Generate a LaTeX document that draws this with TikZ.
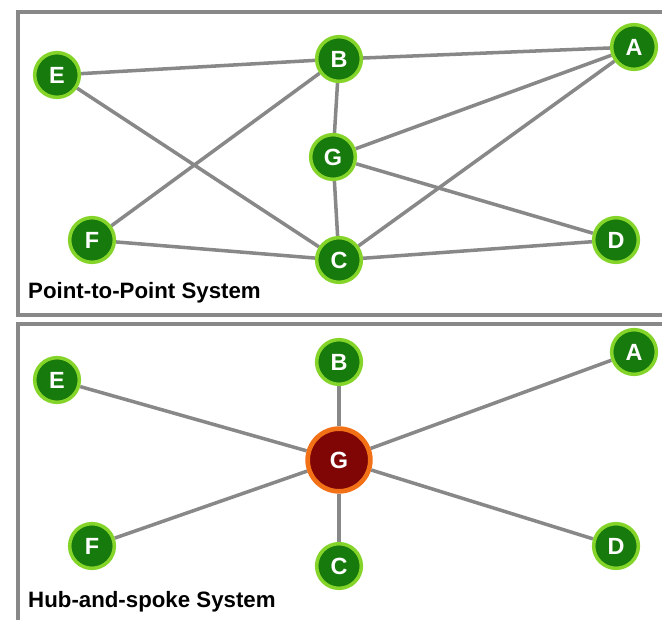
\documentclass[tikz,border=0pt]{standalone}
\usepackage{fontspec}
\setmainfont{Liberation Sans}
\usetikzlibrary{positioning,backgrounds}

\definecolor{citygreen}{RGB}{22,122,12}
\definecolor{ringgreen}{RGB}{132,212,42}
\definecolor{hubred}{RGB}{128,6,6}
\definecolor{hubring}{RGB}{242,112,22}
\definecolor{routegray}{RGB}{136,136,136}

\tikzset{
  city/.style={circle,fill=citygreen,draw=ringgreen,line width=3pt,
    minimum size=1.34cm,inner sep=0pt,text=white,
    font=\bfseries\fontsize{20}{20}\selectfont},
  hub/.style={city,fill=hubred,draw=hubring,line width=4pt,minimum size=1.88cm},
  route/.style={draw=routegray,line width=3pt},
  frame/.style={draw=routegray,line width=2.6pt},
  caption/.style={anchor=base west,inner sep=0pt,
    font=\bfseries\fontsize{19}{19}\selectfont},
}

\begin{document}
\begin{tikzpicture}[x=0.03cm,y=-0.03cm]
    \useasboundingbox (0,0) rectangle (662,620);

    % frames
    \draw[frame] (662,12) -- (18,12) -- (18,315) -- (662,315);
    \draw[frame] (662,324) -- (18,324) -- (18,620);

    % point-to-point
    \node[city] (e1) at (57,75) {E};
    \node[city] (b1) at (339,59) {B};
    \node[city] (a1) at (634,47) {A};
    \node[city] (g1) at (333,157) {G};
    \node[city] (f1) at (92,240) {F};
    \node[city] (c1) at (339,260) {C};
    \node[city] (d1) at (616,240) {D};
    \node[caption] (ptp) at (28,299) {Point-to-Point System};

    % hub-and-spoke
    \node[city] (e2) at (57,380) {E};
    \node[city] (b2) at (339,362) {B};
    \node[city] (a2) at (634,352) {A};
    \node[hub] (g2) at (339,460) {G};
    \node[city] (f2) at (92,546) {F};
    \node[city] (c2) at (339,566) {C};
    \node[city] (d2) at (616,546) {D};
    \node[caption] (hs) at (28,607) {Hub-and-spoke System};

    \begin{scope}[on background layer]
    \fill[white] (0,0) rectangle (662,620);
    \draw[route] (e1) -- (b1);
    \draw[route] (e1) -- (c1);
    \draw[route] (f1) -- (b1);
    \draw[route] (f1) -- (c1);
    \draw[route] (b1) -- (a1);
    \draw[route] (b1) -- (g1);
    \draw[route] (g1) -- (c1);
    \draw[route] (g1) -- (a1);
    \draw[route] (g1) -- (d1);
    \draw[route] (c1) -- (a1);
    \draw[route] (c1) -- (d1);
    \foreach \n in {a2,b2,c2,d2,e2,f2}
      \draw[route] (g2) -- (\n);
    \end{scope}
  \end{tikzpicture}
\end{document}
